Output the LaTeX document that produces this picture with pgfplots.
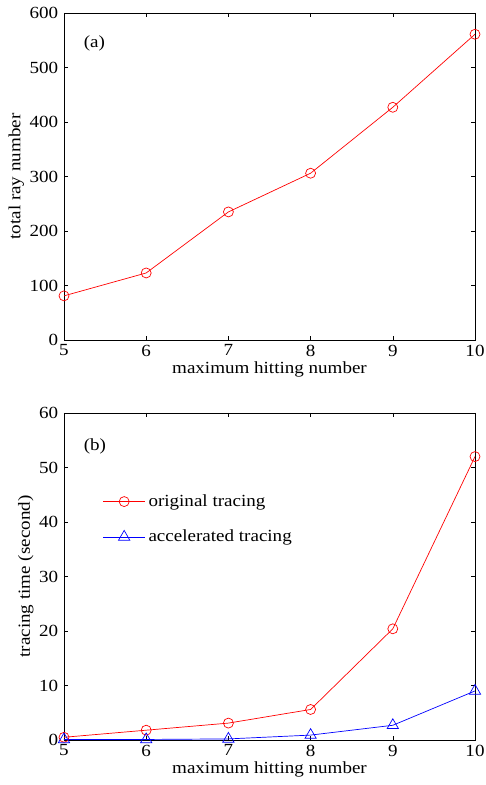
\documentclass[border=0pt]{standalone}
\usepackage{pgfplots}
\pgfplotsset{compat=1.18}
\usepackage{fontspec}
\setmainfont{Liberation Serif}[FakeStretch=1.12]
\begin{document}
\fontsize{17bp}{20bp}\selectfont
\begin{tikzpicture}
\path[use as bounding box] (0,0) rectangle (486bp,785bp);
\pgfplotsset{
  every axis/.append style={
    scale only axis, width=411bp, height=327bp,
    xmin=5, xmax=10, xtick={5,6,7,8,9,10},
    tick align=inside, major tick length=4bp,
    axis line style={line width=0.9pt},
    tick style={black, line width=0.6pt},
    /pgf/number format/assume math mode=true,
    tick label style={font=\fontsize{17bp}{20bp}\selectfont},
    label style={font=\fontsize{17bp}{20bp}\selectfont},
    xticklabel style={yshift=1bp},
    xlabel={maximum hitting number},
    xlabel style={yshift=6bp},
    ylabel style={yshift=-6bp},
  },
}
\begin{axis}[at={(64bp,445bp)}, anchor=south west,
  ymin=0, ymax=600, ytick={0,100,...,600},
  ylabel={total ray number}]
\addplot[red, line width=0.7pt, mark=o, mark size=5bp, mark options={line width=0.7pt}]
  coordinates {(5,81) (6,123) (7,235) (8,306) (9,427) (10,561)};
\node[anchor=west] at (axis cs:5.17,545) {(a)};
\end{axis}
\begin{axis}[at={(64bp,45bp)}, anchor=south west,
  ymin=0, ymax=60, ytick={0,10,...,60},
  ylabel={tracing time (second)},
  legend style={draw=none, fill=none, inner sep=0pt, at={(axis cs:5.47,45.1)}, anchor=north west,
    font=\fontsize{17bp}{20bp}\selectfont, row sep=21bp,
    nodes={inner xsep=3bp, inner ysep=0bp}},
  legend cell align=left,
  legend image code/.code={\draw[#1, mark repeat=2, mark phase=2] plot coordinates {(0bp,0bp) (21bp,0bp) (42bp,0bp)};}]
\addplot[red, line width=0.7pt, mark=o, mark size=5bp, mark options={line width=0.7pt}]
  coordinates {(5,0.5) (6,1.8) (7,3.1) (8,5.6) (9,20.4) (10,52.0)};
\addlegendentry{original tracing}
\addplot[blue, line width=0.7pt, mark=triangle, mark size=6.5bp, mark options={line width=0.7pt}]
  coordinates {(5,0.1) (6,0.1) (7,0.2) (8,0.9) (9,2.7) (10,9.0)};
\addlegendentry{accelerated tracing}
\node[anchor=west] at (axis cs:5.17,53.8) {(b)};
\end{axis}
\end{tikzpicture}
\end{document}
